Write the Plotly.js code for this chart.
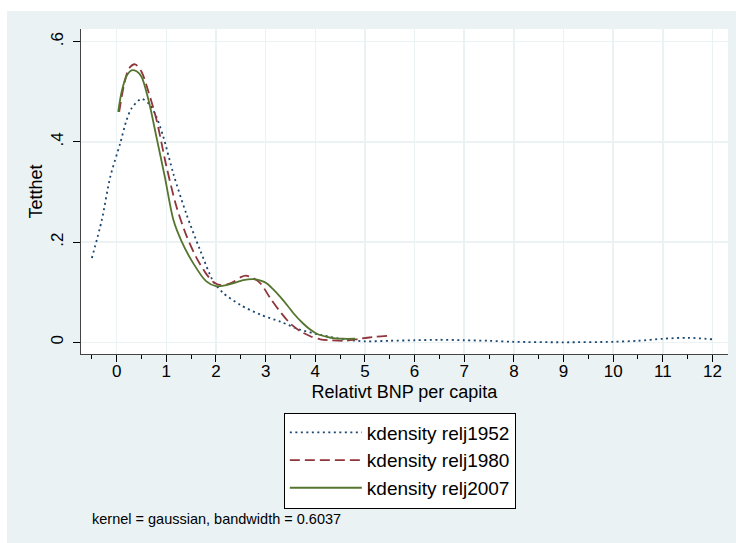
<!DOCTYPE html>
<html>
<head>
<meta charset="utf-8">
<script src="https://cdn.plot.ly/plotly-3.0.1.min.js"></script>
<style>
html, body { margin: 0; padding: 0; background: #ffffff; }
#chart { position: absolute; left: 7px; top: 11px; width: 729px; height: 532px; }
</style>
</head>
<body>
<div id="chart"></div>
<script>
// Series names
const seriesNames = ["kdensity relj1952", "kdensity relj1980", "kdensity relj2007"];

// kdensity relj1952
const x1952 = [-0.5, -0.3, -0.13, 0.07, 0.2, 0.3, 0.5, 0.67, 0.8, 0.94, 1.14, 1.4, 1.68, 1.95, 2.15, 2.5, 2.9, 3.3, 3.7, 4.1, 4.55, 5.0, 5.5, 6.0, 6.5, 7.0, 7.5, 8.0, 9.0, 10.0, 10.5, 11.0, 11.5, 12.0];
const y1952 = [0.168, 0.244, 0.33, 0.397, 0.444, 0.467, 0.486, 0.474, 0.45, 0.41, 0.337, 0.257, 0.184, 0.121, 0.098, 0.074, 0.055, 0.041, 0.025, 0.015, 0.006, 0.002, 0.003, 0.004, 0.005, 0.004, 0.003, 0.001, 0.0, 0.001, 0.003, 0.007, 0.009, 0.006];

// kdensity relj1980
const x1980 = [0.05, 0.15, 0.25, 0.37, 0.5, 0.64, 0.8, 1.0, 1.2, 1.4, 1.6, 1.8, 1.95, 2.1, 2.3, 2.5, 2.6, 2.75, 2.9, 3.1, 3.3, 3.5, 3.7, 3.9, 4.1, 4.3, 4.6, 4.9, 5.2, 5.45];
const y1980 = [0.46, 0.515, 0.547, 0.555, 0.54, 0.50, 0.445, 0.352, 0.272, 0.214, 0.17, 0.137, 0.12, 0.114, 0.118, 0.13, 0.133, 0.128, 0.117, 0.087, 0.06, 0.037, 0.022, 0.012, 0.006, 0.004, 0.003, 0.007, 0.011, 0.013];

// kdensity relj2007
const x2007 = [0.03, 0.1, 0.2, 0.3, 0.4, 0.5, 0.64, 0.8, 0.97, 1.14, 1.3, 1.54, 1.8, 2.0, 2.2, 2.35, 2.55, 2.75, 2.9, 3.02, 3.15, 3.29, 3.45, 3.56, 3.75, 3.89, 4.05, 4.23, 4.4, 4.56, 4.8];
const y2007 = [0.46, 0.50, 0.532, 0.543, 0.541, 0.53, 0.484, 0.41, 0.33, 0.245, 0.203, 0.158, 0.122, 0.112, 0.114, 0.118, 0.124, 0.126, 0.123, 0.118, 0.106, 0.091, 0.072, 0.058, 0.038, 0.026, 0.016, 0.011, 0.008, 0.007, 0.007];

// Axis ticks
const xTickVals = [0,1,2,3,4,5,6,7,8,9,10,11,12];
const xTickText = ["0","1","2","3","4","5","6","7","8","9","10","11","12"];
const yTickVals = [0, 0.2, 0.4, 0.6];
const yTickText = ["0", ".2", ".4", ".6"];

const noteText = "kernel = gaussian, bandwidth = 0.6037";

const FONT = "Liberation Sans, Arial, Helvetica, sans-serif";
const BG = "#eaf2f3";

const traces = [
  {x: x1952, y: y1952, name: seriesNames[0], type: "scatter", mode: "lines",
   line: {color: "#1a476f", width: 1.8, dash: "2px,3.5px", shape: "spline", smoothing: 0.8}},
  {x: x1980, y: y1980, name: seriesNames[1], type: "scatter", mode: "lines",
   line: {color: "#90353b", width: 1.8, dash: "10px,5px", shape: "spline", smoothing: 0.8}},
  {x: x2007, y: y2007, name: seriesNames[2], type: "scatter", mode: "lines",
   line: {color: "#55752f", width: 1.8, shape: "spline", smoothing: 0.8}}
];

const layout = {
  width: 729, height: 532,
  paper_bgcolor: BG,
  plot_bgcolor: "#ffffff",
  margin: {l: 74, r: 7.7, t: 18, b: 189, pad: 0},
  font: {family: FONT, size: 17, color: "#000"},
  showlegend: true,
  legend: {
    x: 0.3135, y: -0.18, xanchor: "left", yanchor: "top",
    bgcolor: "#ffffff", bordercolor: "#000000", borderwidth: 1,
    font: {family: FONT, size: 19, color: "#000"},
    itemwidth: 72, traceorder: "normal"
  },
  xaxis: {
    range: [-0.719, 12.313],
    tickmode: "array", tickvals: xTickVals, ticktext: xTickText,
    ticks: "outside", ticklen: 7, tickwidth: 1, tickcolor: "#000",
    ticklabelstandoff: -5,
    showgrid: true, gridcolor: BG, gridwidth: 1.5,
    showline: true, linecolor: "#444", linewidth: 1,
    zeroline: false,
    minor: {dtick: 0.5, tick0: 0, ticks: "outside", ticklen: 4, tickcolor: "#000", showgrid: false},
    tickfont: {family: FONT, size: 17},
    title: {text: "Relativt BNP per capita", font: {family: FONT, size: 18}, standoff: 4}
  },
  yaxis: {
    range: [-0.0234, 0.6254],
    tickmode: "array", tickvals: yTickVals, ticktext: yTickText,
    tickangle: -90,
    ticks: "outside", ticklen: 7, tickwidth: 1, tickcolor: "#000",
    ticklabelstandoff: 3,
    showgrid: true, gridcolor: BG, gridwidth: 1.5,
    showline: true, linecolor: "#444", linewidth: 1,
    zeroline: false,
    tickfont: {family: FONT, size: 17},
    title: {text: "Tetthet", font: {family: FONT, size: 18}, standoff: 0}
  },
  annotations: [
    {text: noteText, xref: "paper", yref: "paper", x: 0.0139, y: -0.5077,
     xanchor: "left", yanchor: "middle", showarrow: false,
     font: {family: FONT, size: 14.5, color: "#000"}}
  ]
};

Plotly.newPlot("chart", traces, layout, {displayModeBar: false, staticPlot: true});
</script>
</body>
</html>
